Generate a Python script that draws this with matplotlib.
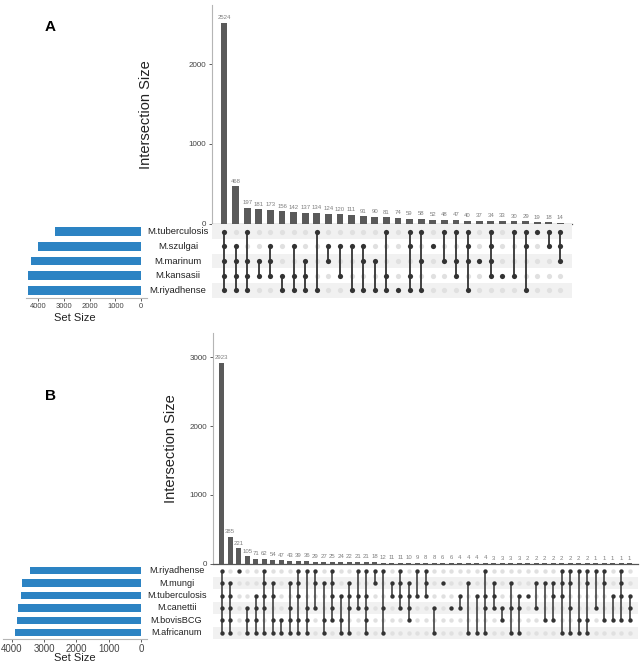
import matplotlib.pyplot as plt
import numpy as np
from matplotlib.transforms import blended_transform_factory

plt.rcParams['font.family'] = ['Liberation Sans', 'DejaVu Sans']

# Panel A data (set rows listed top to bottom in the matrix)
a_sets = ['M.tuberculosis', 'M.szulgai', 'M.marinum', 'M.kansasii', 'M.riyadhense']
a_counts = [2524, 468, 197, 181, 173, 156, 142, 137, 134, 124, 120, 111, 91, 90, 81,
            74, 59, 58, 52, 48, 47, 40, 37, 34, 33, 30, 29, 19, 18, 14]
a_members = ['11111', '01111', '10111', '00110', '01110', '00011', '01011', '00111',
             '10001', '01100', '01010', '01001', '01101', '00101', '10011', '00001',
             '11011', '10101', '01000', '10100', '10110', '11101', '00100', '11110',
             '00010', '10010', '11001', '10000', '11000', '11100']

# Panel B data
b_sets = ['M.riyadhense', 'M.mungi', 'M.tuberculosis', 'M.canettii', 'M.bovisBCG', 'M.africanum']
b_counts = [2923, 385, 221, 105, 71, 62, 54, 47, 43, 39, 36, 29, 27, 25, 24, 22, 21, 21,
            18, 12, 11, 11, 10, 9, 8, 8, 6, 6, 4, 4, 4, 4, 3, 3, 3, 3,
            2, 2, 2, 2, 2, 2, 2, 2, 1, 1, 1, 1, 1]
b_members = ['111111', '011111', '100000', '000111', '001111', '111101', '011011', '000011',
             '010111', '111011', '100111', '110100', '010011', '111110', '001011', '011101',
             '101100', '101111', '110000', '100101', '011000', '111100', '011110', '101000',
             '111000', '000101', '010000', '000100', '001100', '010001', '001001', '101101',
             '011100', '000110', '010101', '001101', '001000', '010100', '010010', '011010',
             '111001', '110101', '100011', '110011', '100100', '110010', '001010', '111010',
             '001110']

W, H = 642, 666
fig = plt.figure(figsize=(W / 100, H / 100), dpi=100)


def box(x0, y0, x1, y1):
    return [x0 / W, 1 - y1 / H, (x1 - x0) / W, (y1 - y0) / H]


def upset(sets, counts, members, col0, dx, bar_top, bar_zero, ymax, row0, dy,
          size_left, size_zero, size_max, size_ticks, yticks, tick_fs, dot_s, lw, bar_w,
          ylab_x, setsize_y, letter, letter_y, name_x, name_fs):
    n = len(counts)
    k = len(sets)
    x0 = col0 - dx
    x1 = col0 + n * dx
    # intersection bars
    ax = fig.add_axes(box(x0, bar_top, x1, bar_zero))
    xs = np.arange(n)
    ax.bar(xs, counts, width=bar_w, color='#5a5a5a')
    for x, c in zip(xs, counts):
        ax.text(x, c + ymax * 0.012, str(c), ha='center', va='bottom', fontsize=4.3, color='#7f7f7f')
    ax.set_xlim(-1, n)
    ax.set_ylim(0, ymax)
    ax.set_xticks([])
    ax.set_yticks(yticks)
    ax.tick_params(axis='y', labelsize=5.8, length=2.5, width=0.6, color='#444444',
                   labelcolor='#444444', pad=2)
    for s in ['top', 'right']:
        ax.spines[s].set_visible(False)
    ax.spines['left'].set_color('#b5b5b5')
    ax.spines['bottom'].set_color('#555555')
    ax.spines['left'].set_linewidth(0.8)
    ax.spines['bottom'].set_linewidth(0.9)
    fig.text(ylab_x / W, 1 - (bar_top + bar_zero) / 2 / H, 'Intersection Size', rotation=90,
             ha='center', va='center', fontsize=10.5, color='#222222')

    # matrix
    mt = row0 - dy / 2
    mb = row0 + (k - 0.5) * dy
    am = fig.add_axes(box(x0, mt, x1, mb))
    am.set_xlim(-1, n)
    am.set_ylim(k - 0.5, -0.5)
    for r in range(k):
        if (k - 1 - r) % 2 == 0:
            am.axhspan(r - 0.5, r + 0.5, color='#f1f1f1', lw=0, zorder=0)
    for j, m in enumerate(members):
        on = [r for r in range(k) if m[r] == '1']
        off = [r for r in range(k) if m[r] != '1']
        am.scatter([j] * len(off), off, s=dot_s, color='#e0e0e0', lw=0, zorder=2)
        if len(on) > 1:
            am.plot([j, j], [min(on), max(on)], color='#333333', lw=lw, zorder=3,
                    solid_capstyle='butt')
        am.scatter([j] * len(on), on, s=dot_s, color='#333333', lw=0, zorder=4)
    am.axis('off')
    tr = blended_transform_factory(fig.transFigure, am.transData)
    for r, name in enumerate(sets):
        am.text(name_x / W, r, name, transform=tr, ha='center', va='center', fontsize=name_fs,
                color='#222222')

    # set sizes
    sizes = [sum(c for c, m in zip(counts, members) if m[r] == '1') for r in range(k)]
    asz = fig.add_axes(box(size_left, mt, 147, mb))
    asz.barh(np.arange(k), sizes, height=0.6, color='#2C83C3')
    asz.set_ylim(k - 0.5, -0.5)
    px = (size_zero - size_left) / size_max
    asz.set_xlim(size_max, -(147 - size_zero) / px)
    asz.set_xticks(size_ticks)
    asz.set_yticks([])
    asz.tick_params(axis='x', labelsize=tick_fs, length=2.5, width=0.6, color='#444444',
                    labelcolor='#444444', pad=1.5)
    for s in ['top', 'right', 'left']:
        asz.spines[s].set_visible(False)
    asz.spines['bottom'].set_color('#b5b5b5')
    asz.spines['bottom'].set_linewidth(0.8)
    fig.text(75 / W, 1 - setsize_y / H, 'Set Size', ha='center', va='center', fontsize=8,
             color='#222222')
    fig.text(50 / W, 1 - letter_y / H, letter, ha='center', va='center', fontsize=11,
             fontweight='bold')


upset(a_sets, a_counts, a_members, col0=224, dx=11.6, bar_top=5, bar_zero=223.7, ymax=2744,
      row0=231.7, dy=14.65, size_left=26, size_zero=141, size_max=4475,
      size_ticks=[0, 1000, 2000, 3000, 4000], yticks=[0, 1000, 2000], tick_fs=5.5,
      dot_s=14, lw=1.3, bar_w=0.58, ylab_x=146, setsize_y=318, letter='A', letter_y=27,
      name_x=178, name_fs=6.8)

upset(b_sets, b_counts, b_members, col0=221.7, dx=8.5, bar_top=333, bar_zero=563.5, ymax=3356,
      row0=570.7, dy=12.4, size_left=3, size_zero=141, size_max=4272,
      size_ticks=[0, 1000, 2000, 3000, 4000], yticks=[0, 1000, 2000, 3000], tick_fs=7,
      dot_s=10, lw=1.1, bar_w=0.55, ylab_x=171, setsize_y=658, letter='B', letter_y=396,
      name_x=176.5, name_fs=6.6)

fig.savefig('out.png', dpi=100)
